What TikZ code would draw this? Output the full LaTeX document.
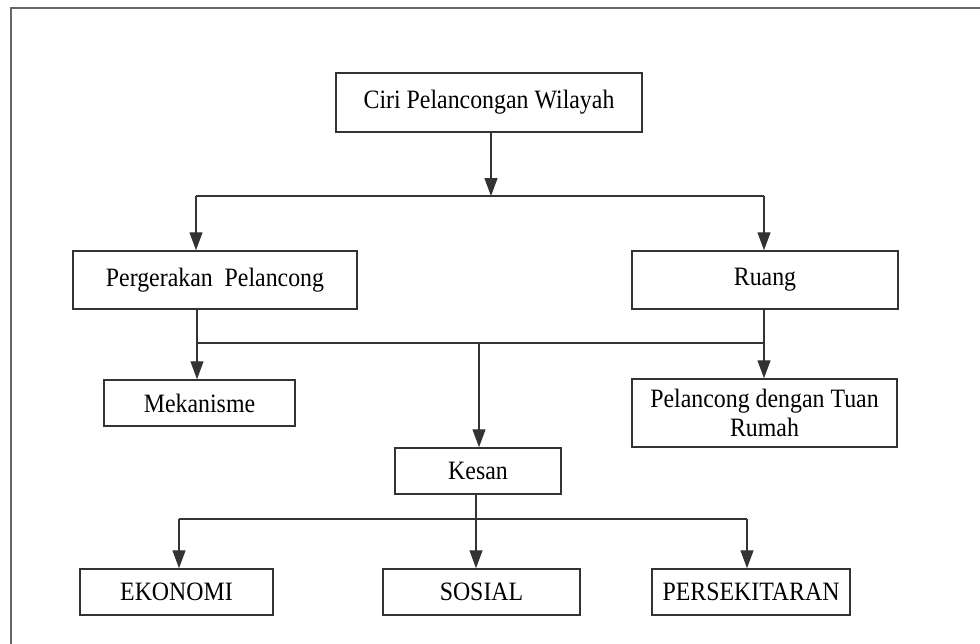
\documentclass[tikz,border=0pt]{standalone}
\usepackage{fontspec}
\setmainfont{Liberation Serif}[FakeStretch=0.9]
\usetikzlibrary{arrows.meta}

\begin{document}
\begin{tikzpicture} [x=1pt,y=-1pt,line width=1.3pt,draw=black!80,font=\fontsize{26.5}{29}\selectfont]
  \tikzstyle{box}=[draw=black!80,line width=1.5pt,rectangle,inner sep=0pt,align=center]
  \tikzstyle{arr}=[-{Triangle[length=18pt,width=13pt]}]
  \tikzstyle{frame}=[draw=black!60,line width=2pt]

  \useasboundingbox (0,0) rectangle (980,643);
  \draw[frame] (990,8) -- (11,8) -- (11,650);

  \node[box,minimum width=306pt,minimum height=59pt] (ciri) at (489,102.5) {Ciri Pelancongan Wilayah};
  \node[box,minimum width=284pt,minimum height=58pt] (gerak) at (215,280) {Pergerakan~ Pelancong};
  \node[box,minimum width=266pt,minimum height=58pt] (ruang) at (765,280) {Ruang};
  \node[box,minimum width=191pt,minimum height=46pt] (mek) at (199.5,403) {Mekanisme};
  \node[box,minimum width=265pt,minimum height=68pt] (tuan) at (764.5,413) {Pelancong dengan Tuan\\Rumah};
  \node[box,minimum width=166pt,minimum height=46pt] (kesan) at (478,471) {Kesan};
  \node[box,minimum width=193pt,minimum height=46pt] (eko) at (176.5,592) {EKONOMI};
  \node[box,minimum width=197pt,minimum height=46pt] (sos) at (481.5,592) {SOSIAL};
  \node[box,minimum width=198pt,minimum height=46pt] (pers) at (751,592) {PERSEKITARAN};

  % junctions
  \coordinate (t0) at (491,196);
  \coordinate (t1) at (196,196);
  \coordinate (t2) at (764,196);
  \coordinate (m0) at (479,343);
  \coordinate (m1) at (197,343);
  \coordinate (m2) at (764,343);
  \coordinate (k0) at (476,519);
  \coordinate (k1) at (179,519);
  \coordinate (k2) at (747,519);

  \draw[arr] (ciri.south -| t0) -- (t0);
  \draw (t1) -- (t2);
  \foreach \c / \n in {t1/gerak, t2/ruang}
    \draw[arr] (\c) -- (\n.north -| \c);

  \draw (gerak.south -| m1) -- (m1) -- (m2) -- (ruang.south -| m2);
  \foreach \c / \n in {m1/mek, m0/kesan, m2/tuan}
    \draw[arr] (\c) -- (\n.north -| \c);

  \draw (kesan.south -| k0) -- (k0);
  \draw (k1) -- (k2);
  \foreach \c / \n in {k1/eko, k0/sos, k2/pers}
    \draw[arr] (\c) -- (\n.north -| \c);

\end{tikzpicture}
\end{document}
